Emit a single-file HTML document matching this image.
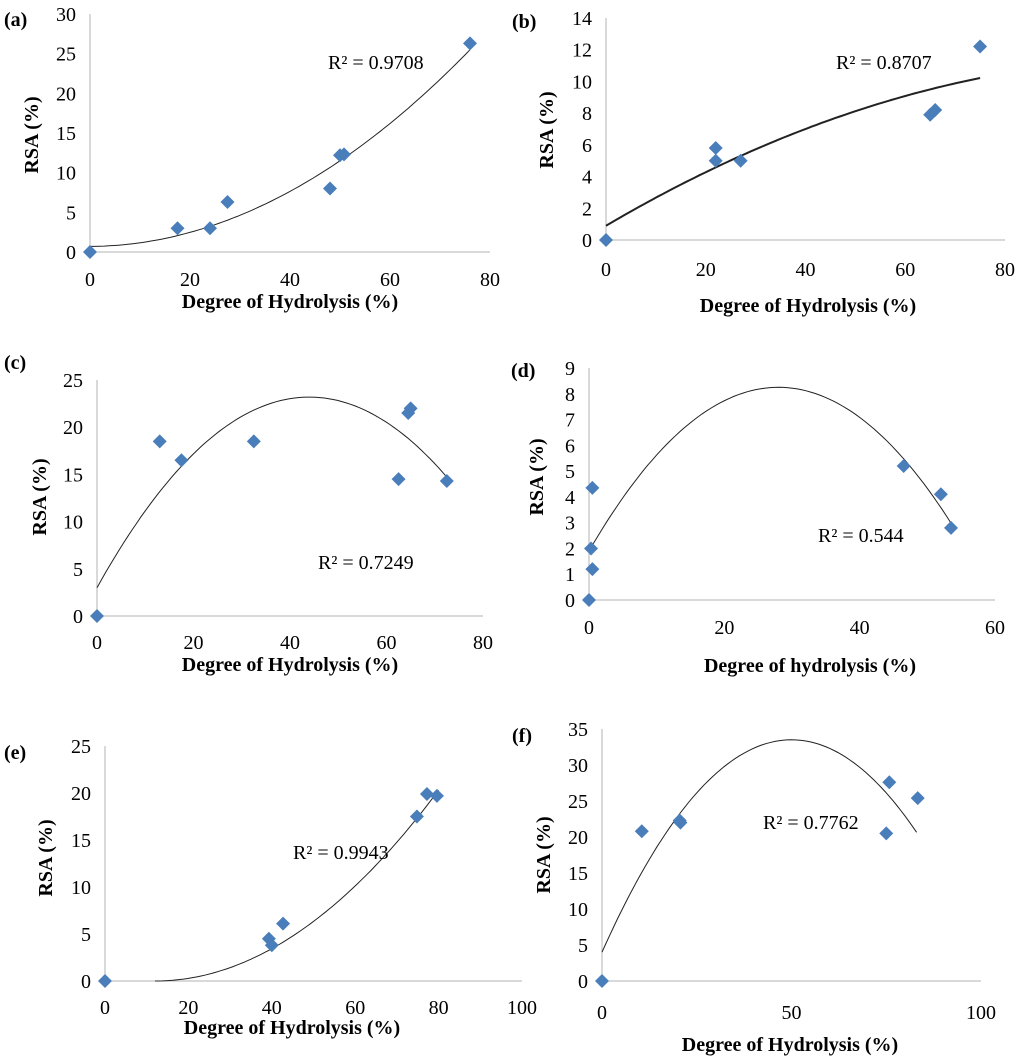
<!DOCTYPE html>
<html><head><meta charset="utf-8"><style>
body{margin:0;background:#fff}
svg{display:block}
text{font-family:"Liberation Serif",serif;fill:#000}
</style></head><body>
<svg id="fig" width="1024" height="1062" viewBox="0 0 1024 1062"></svg>
<script>
// Panel data (Degree of hydrolysis %, RSA %)
const aX=[0,17.5,24,27.5,48,50,50.8,76];
const aY=[0,3,3,6.3,8,12.2,12.3,26.3];
const bX=[0,22,22,27,65,66,75];
const bY=[0,5.8,5,5,7.9,8.2,12.2];
const cX=[0,13,17.5,32.5,62.5,64.5,65,72.5];
const cY=[0,18.5,16.5,18.5,14.5,21.5,22,14.3];
const dX=[0,0.5,0.3,0.5,46.5,52,53.5];
const dY=[0,1.2,2,4.35,5.2,4.1,2.8];
const eX=[0,39.3,40,42.7,74.8,77.2,79.6];
const eY=[0,4.5,3.8,6.1,17.5,19.9,19.7];
const fX=[0,10.5,20.5,20.7,75,75.8,83.3];
const fY=[0,20.8,22.3,22,20.5,27.6,25.4];
// quadratic trendline coefficients [a,b,c] : y=a x^2+b x+c
const aTrend=[0.004243,0.0038,0.7];
const bTrend=[-0.000811,0.185,0.9];
const cTrend=[-0.01043,0.9178,3.0];
const dTrend=[-0.0081,0.4536,1.9];
const eTrend=[0.00439,-0.10536,0.632];
const fTrend=[-0.0118,1.18,4.0];
const aXTicks=[0,20,40,60,80], aYTicks=[0,5,10,15,20,25,30];
const bXTicks=[0,20,40,60,80], bYTicks=[0,2,4,6,8,10,12,14];
const cXTicks=[0,20,40,60,80], cYTicks=[0,5,10,15,20,25];
const dXTicks=[0,20,40,60], dYTicks=[0,1,2,3,4,5,6,7,8,9];
const eXTicks=[0,20,40,60,80,100], eYTicks=[0,5,10,15,20,25];
const fXTicks=[0,50,100], fYTicks=[0,5,10,15,20,25,30,35];

const NS="http://www.w3.org/2000/svg";
const svg=document.getElementById('fig');
function mk(tag,attrs,parent,txt){const e=document.createElementNS(NS,tag);for(const k in attrs)e.setAttribute(k,attrs[k]);if(txt!==undefined)e.textContent=txt;parent.appendChild(e);return e;}

const panels=[
 {id:'a',X:aX,Y:aY,T:aTrend,xt:aXTicks,yt:aYTicks,x0:90,x1:490,xmax:80,y0:252,ytop:14,ymax:30,tr:[0,76],lab:[4,26],r2:'R² = 0.9708',r2p:[328,69],ytitle:[38,135],xtitle:[290,308],xtxt:'Degree of Hydrolysis  (%)',tickDy:34,sw:1},
 {id:'b',X:bX,Y:bY,T:bTrend,xt:bXTicks,yt:bYTicks,x0:606,x1:1005,xmax:80,y0:240,ytop:18,ymax:14,tr:[0,75],lab:[512,28],r2:'R² = 0.8707',r2p:[836,69],ytitle:[553,130],xtitle:[808,312],xtxt:'Degree of Hydrolysis (%)',tickDy:36,sw:2},
 {id:'c',X:cX,Y:cY,T:cTrend,xt:cXTicks,yt:cYTicks,x0:97,x1:483,xmax:80,y0:616,ytop:380,ymax:25,tr:[0,72.5],lab:[4,369],r2:'R² = 0.7249',r2p:[318,569],ytitle:[46,497],xtitle:[290,671],xtxt:'Degree of Hydrolysis  (%)',tickDy:33,sw:1},
 {id:'d',X:dX,Y:dY,T:dTrend,xt:dXTicks,yt:dYTicks,x0:589,x1:995,xmax:60,y0:600,ytop:368,ymax:9,tr:[0,53.5],lab:[511,377],r2:'R² = 0.544',r2p:[818,542],ytitle:[543,477],xtitle:[810,672],xtxt:'Degree of hydrolysis  (%)',tickDy:34,sw:1},
 {id:'e',X:eX,Y:eY,T:eTrend,xt:eXTicks,yt:eYTicks,x0:105,x1:522,xmax:100,y0:981,ytop:746,ymax:25,tr:[12,80],lab:[4,759],r2:'R² = 0.9943',r2p:[293,859],ytitle:[52,858],xtitle:[292,1034],xtxt:'Degree of Hydrolysis  (%)',tickDy:33,sw:1},
 {id:'f',X:fX,Y:fY,T:fTrend,xt:fXTicks,yt:fYTicks,x0:602,x1:981,xmax:100,y0:981,ytop:729,ymax:35,tr:[0,83],lab:[512,742],r2:'R² = 0.7762',r2p:[763,829],ytitle:[550,855],xtitle:[790,1051],xtxt:'Degree of Hydrolysis  (%)',tickDy:38,sw:1}
];

panels.forEach(p=>{
 const g=mk('g',{},svg);
 
 
 const sx=v=>p.x0+(v/p.xmax)*(p.x1-p.x0);
 const sy=v=>p.y0-(v/p.ymax)*(p.y0-p.ytop);
 const ya=mk('line',{x1:p.x0,y1:p.ytop,x2:p.x0,y2:p.y0,stroke:'#b3b3b3','stroke-width':1},g);
 
 
 const xa=mk('line',{x1:p.x0,y1:p.y0,x2:p.x1,y2:p.y0,stroke:'#b3b3b3','stroke-width':1},g);
 
 
 p.yt.forEach(t=>{
  const e=mk('text',{x:p.x0-14,y:sy(t)+7,'text-anchor':'end','font-size':20},g,String(t));
  
  
 });
 p.xt.forEach(t=>{
  const e=mk('text',{x:sx(t),y:p.y0+p.tickDy,'text-anchor':'middle','font-size':20},g,String(t));
  
  
 });
 let d='';
 for(let i=0;i<=80;i++){const x=p.tr[0]+(p.tr[1]-p.tr[0])*i/80;const y=p.T[0]*x*x+p.T[1]*x+p.T[2];d+=(i?'L':'M')+sx(x).toFixed(1)+','+sy(y).toFixed(1);}
 const tl=mk('path',{d:d,fill:'none',stroke:'#222','stroke-width':p.sw},g);
 
 
 p.X.forEach((x,i)=>{
  const cx=sx(x),cy=sy(p.Y[i]),r=7;
  const m=mk('polygon',{points:`${cx},${cy-r} ${cx+r},${cy} ${cx},${cy+r} ${cx-r},${cy}`,fill:'#4a7ebb'},g);
  
  
 });
 const r2=mk('text',{x:p.r2p[0],y:p.r2p[1],'font-size':20},g,p.r2);
 
 
 const lb=mk('text',{x:p.lab[0],y:p.lab[1],'font-size':20,'font-weight':'bold'},g,'('+p.id+')');
 
 
 const yt=mk('text',{x:p.ytitle[0],y:p.ytitle[1],'font-size':20,'font-weight':'bold','text-anchor':'middle',transform:`rotate(-90 ${p.ytitle[0]} ${p.ytitle[1]})`},g,'RSA (%)');
 
 
 const xt=mk('text',{x:p.xtitle[0],y:p.xtitle[1],'font-size':20,'font-weight':'bold','text-anchor':'middle'},g,p.xtxt);
 
 
});
</script>
</body></html>
